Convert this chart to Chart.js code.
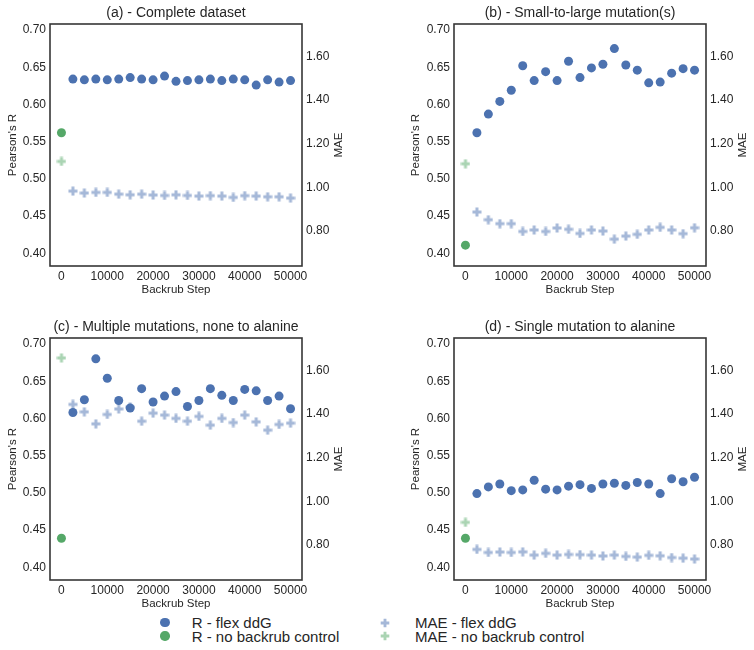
<!DOCTYPE html>
<html><head><meta charset="utf-8">
<script src="https://cdn.jsdelivr.net/npm/chart.js@4.4.0/dist/chart.umd.min.js"></script>
<style>
html,body{margin:0;padding:0;background:#fff;width:754px;height:650px;overflow:hidden;}
body{position:relative;font-family:"Liberation Sans",Arial,sans-serif;}
.c{position:absolute;}
.lg{position:absolute;font-size:15px;color:#262626;line-height:15px;white-space:nowrap;}
.mk{position:absolute;}
</style></head><body>
<canvas class="c" id="ca" width="377" height="300" style="left:0;top:0"></canvas>
<canvas class="c" id="cb" width="377" height="300" style="left:377px;top:0"></canvas>
<canvas class="c" id="cc" width="377" height="300" style="left:0;top:314px"></canvas>
<canvas class="c" id="cd" width="377" height="300" style="left:377px;top:314px"></canvas>
<div id="legend"></div>
<script>
// ---------- data ----------
const steps = [2500,5000,7500,10000,12500,15000,17500,20000,22500,25000,27500,30000,32500,35000,37500,40000,42500,45000,47500,50000];
const controlStep = 0;
const xTicks = [0,10000,20000,30000,40000,50000];
const rTicks = [0.40,0.45,0.50,0.55,0.60,0.65,0.70];
const maeTicks = [0.80,1.00,1.20,1.40,1.60];
const panelTitles = ['(a) - Complete dataset','(b) - Small-to-large mutation(s)','(c) - Multiple mutations, none to alanine','(d) - Single mutation to alanine'];
const legendLabels = ['R - flex ddG','R - no backrub control','MAE - flex ddG','MAE - no backrub control'];

const rFlexA   = [0.634,0.633,0.634,0.633,0.634,0.636,0.634,0.633,0.638,0.631,0.632,0.633,0.634,0.632,0.634,0.633,0.626,0.633,0.630,0.632];
const maeFlexA = [0.983,0.974,0.977,0.977,0.969,0.966,0.969,0.965,0.963,0.966,0.963,0.960,0.962,0.960,0.954,0.962,0.960,0.957,0.957,0.951];
const rCtrlA = 0.562, maeCtrlA = 1.119;

const rFlexB   = [0.562,0.587,0.604,0.619,0.652,0.632,0.644,0.632,0.658,0.636,0.649,0.654,0.675,0.653,0.646,0.629,0.630,0.642,0.648,0.646];
const maeFlexB = [0.887,0.852,0.834,0.834,0.798,0.805,0.798,0.814,0.808,0.789,0.805,0.800,0.763,0.777,0.785,0.805,0.817,0.805,0.788,0.815];
const rCtrlB = 0.411, maeCtrlB = 1.108;

const rFlexC   = [0.608,0.625,0.680,0.654,0.624,0.614,0.640,0.622,0.630,0.636,0.616,0.624,0.640,0.631,0.624,0.639,0.637,0.624,0.630,0.613];
const maeFlexC = [1.444,1.410,1.355,1.398,1.423,1.432,1.367,1.404,1.395,1.380,1.367,1.389,1.349,1.380,1.361,1.395,1.364,1.326,1.352,1.358];
const rCtrlC = 0.439, maeCtrlC = 1.657;

const rFlexD   = [0.499,0.508,0.512,0.503,0.504,0.517,0.505,0.504,0.509,0.511,0.506,0.512,0.513,0.510,0.514,0.512,0.499,0.519,0.515,0.521];
const maeFlexD = [0.780,0.766,0.768,0.766,0.769,0.754,0.762,0.754,0.757,0.756,0.754,0.750,0.754,0.748,0.745,0.753,0.751,0.743,0.740,0.736];
const rCtrlD = 0.439, maeCtrlD = 0.904;

// ---------- styles ----------
const FONT = '"Liberation Sans", Arial, sans-serif';
const TXT = '#262626';
const BLUE = '#4C72B0', GREEN = '#55A868', LBLUE = '#A5B8D8', LGREEN = '#AAD4B3';

function makePlus(color, size, box){
  const c = document.createElement('canvas');
  c.width = box; c.height = box;
  const g = c.getContext('2d');
  const s = size/6, o = box/2;
  const pts = [[-1,-3],[1,-3],[1,-1],[3,-1],[3,1],[1,1],[1,3],[-1,3],[-1,1],[-3,1],[-3,-1],[-1,-1]];
  g.fillStyle = color; g.beginPath();
  pts.forEach((p,i)=>{const x=o+p[0]*s, y=o+p[1]*s; i?g.lineTo(x,y):g.moveTo(x,y);});
  g.closePath(); g.fill();
  return c;
}
const plusBlue = makePlus(LBLUE, 9, 10);
const plusGreen = makePlus(LGREEN, 9, 10);

const framePlugin = {
  id:'frame',
  afterDraw(chart, args, opts){
    const {ctx, chartArea:a} = chart;
    ctx.save();
    ctx.strokeStyle = '#363636'; ctx.lineWidth = 1.6;
    ctx.strokeRect(a.left, a.top, a.right-a.left, a.bottom-a.top);
    ctx.translate(opts.maeX, (a.top+a.bottom)/2);
    ctx.rotate(-Math.PI/2);
    ctx.font = '11.5px ' + FONT; ctx.fillStyle = TXT;
    ctx.textAlign = 'center'; ctx.textBaseline = 'middle';
    ctx.fillText('MAE', 0, 0);
    ctx.restore();
  }
};

function build(id, title, rFlex, maeFlex, rCtrl, maeCtrl, L){
  const toPts = ys => ys.map((y,i)=>({x:steps[i], y}));
  const tickFont = {family:FONT, size:12};
  new Chart(document.getElementById(id), {
    type:'scatter',
    data:{datasets:[
      {label:legendLabels[0], data:toPts(rFlex), yAxisID:'y', pointStyle:'circle', pointRadius:4.5, backgroundColor:BLUE, borderWidth:0, order:0},
      {label:legendLabels[1], data:[{x:controlStep, y:rCtrl}], yAxisID:'y', pointStyle:'circle', pointRadius:4.5, backgroundColor:GREEN, borderWidth:0, order:0},
      {label:legendLabels[2], data:toPts(maeFlex), yAxisID:'y1', pointStyle:plusBlue, pointRadius:4, borderWidth:0, order:1},
      {label:legendLabels[3], data:[{x:controlStep, y:maeCtrl}], yAxisID:'y1', pointStyle:plusGreen, pointRadius:4, borderWidth:0, order:1}
    ]},
    options:{
      responsive:false, animation:false, events:[], devicePixelRatio:1,
      layout:{padding:0},
      plugins:{
        legend:{display:false}, tooltip:{enabled:false},
        title:{display:true, text:title, fullSize:false, font:{family:FONT, size:14, weight:'normal'}, color:TXT, padding:{top:5, bottom:2.2}},
        frame:{maeX:L.maeX}
      },
      scales:{
        x:{type:'linear', position:'bottom', min:-2500, max:52500,
           afterBuildTicks:s=>{s.ticks = xTicks.map(v=>({value:v}));},
           afterFit:s=>{s.height = 34;},
           grid:{display:false, drawTicks:false}, border:{display:false},
           ticks:{padding:3, font:tickFont, color:TXT, callback:v=>String(v)},
           title:{display:true, text:'Backrub Step', color:TXT, font:{family:FONT, size:11.5}, padding:{top:0, bottom:3.1}}},
        y:{type:'linear', position:'left', min:0.383, max:0.708,
           afterBuildTicks:s=>{s.ticks = rTicks.map(v=>({value:v}));},
           afterFit:s=>{s.width = L.yl;},
           grid:{display:false, drawTicks:false}, border:{display:false},
           ticks:{padding:4, font:tickFont, color:TXT, callback:v=>Number(v).toFixed(2)},
           title:{display:true, text:"Pearson's R", color:TXT, font:{family:FONT, size:11.5}, padding:{top:L.prPad, bottom:0}}},
        y1:{type:'linear', position:'right', min:0.640, max:1.748,
           afterBuildTicks:s=>{s.ticks = maeTicks.map(v=>({value:v}));},
           afterFit:s=>{s.width = L.yr;},
           grid:{display:false, drawTicks:false}, border:{display:false},
           ticks:{padding:4, font:tickFont, color:TXT, callback:v=>Number(v).toFixed(2)}}
      }
    },
    plugins:[framePlugin]
  });
}

const leftL = {yl:50, yr:75, prPad:6.4, maeX:339};
const rightL = {yl:77, yr:48, prPad:32.4, maeX:365.7};
build('ca', panelTitles[0], rFlexA, maeFlexA, rCtrlA, maeCtrlA, leftL);
build('cb', panelTitles[1], rFlexB, maeFlexB, rCtrlB, maeCtrlB, rightL);
build('cc', panelTitles[2], rFlexC, maeFlexC, rCtrlC, maeCtrlC, leftL);
build('cd', panelTitles[3], rFlexD, maeFlexD, rCtrlD, maeCtrlD, rightL);

// ---------- legend ----------
const lg = document.getElementById('legend');
const items = [
  {label:legendLabels[0], kind:'dot', color:BLUE, mx:165, my:622.5, tx:191.7},
  {label:legendLabels[1], kind:'dot', color:GREEN, mx:165, my:636, tx:191.7},
  {label:legendLabels[2], kind:'plus', color:LBLUE, mx:385, my:622.5, tx:415},
  {label:legendLabels[3], kind:'plus', color:LGREEN, mx:385, my:636, tx:415}
];
items.forEach(it=>{
  if(it.kind==='dot'){
    const d = document.createElement('div');
    d.className='mk';
    d.style.cssText = `left:${it.mx-4.7}px;top:${it.my-4.7}px;width:9.4px;height:9.4px;border-radius:50%;background:${it.color};`;
    lg.appendChild(d);
  } else {
    const c = makePlus(it.color, 8.6, 10);
    c.className='mk';
    c.style.left = (it.mx-5)+'px'; c.style.top = (it.my-5)+'px';
    lg.appendChild(c);
  }
  const t = document.createElement('div');
  t.className='lg';
  t.textContent = it.label;
  t.style.left = it.tx+'px'; t.style.top = (it.my-7.3)+'px';
  lg.appendChild(t);
});
</script>
</body></html>
